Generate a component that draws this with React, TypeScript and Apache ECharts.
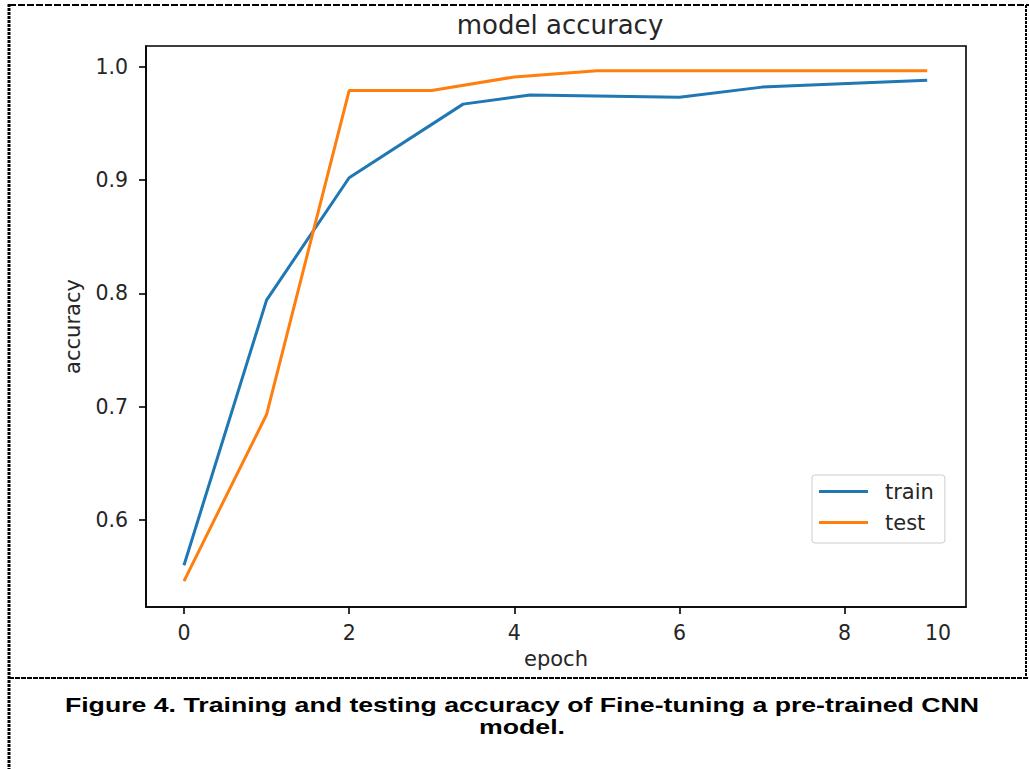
import React, { useEffect, useRef } from "react";
import * as echarts from "echarts";

const trainX = [0, 1, 2, 3.38, 4.19, 6, 7, 9];
const trainY = [0.56, 0.794, 0.902, 0.967, 0.975, 0.973, 0.982, 0.988];
const testX = [0, 1, 2, 3, 4, 5, 6, 7, 8, 9];
const testY = [0.546, 0.693, 0.979, 0.979, 0.991, 0.9965, 0.9965, 0.9965, 0.9965, 0.9965];
const xTicks = [0, 2, 4, 6, 8];
const xLastLabelPos = 9.13;
const xLastLabel = "10";
const yTicks = [0.6, 0.7, 0.8, 0.9, 1.0];
const titleText = "model accuracy";
const captionLine1 = "Figure 4. Training and testing accuracy of Fine-tuning a pre-trained CNN";
const captionLine2 = "model.";

const FONT = "DejaVu Sans";
const TXT = "#262626";
const FS = 20.5;

export default function App() {
  const ref = useRef<HTMLDivElement>(null);
  useEffect(() => {
    document.body.style.margin = "0";
    const chart = echarts.init(ref.current!, null, { renderer: "svg" });
    const axisLine = { show: true, onZero: false, lineStyle: { color: "#000", width: 1.6 } };
    const tick = { show: true, length: 7, inside: false, lineStyle: { color: "#000", width: 1.6 } };
    const option: any = {
      animation: false,
      backgroundColor: "#ffffff",
      title: {
        text: titleText,
        left: 555,
        top: 7,
        textAlign: "center",
        textStyle: { fontFamily: FONT, fontSize: 26, fontWeight: "normal", color: TXT },
      },
      grid: {
        left: 146,
        top: 46,
        width: 820,
        height: 561,
        show: true,
        borderColor: "#000",
        borderWidth: 1.6,
        backgroundColor: "transparent",
      },
      legend: {
        orient: "vertical",
        left: 812,
        top: 475,
        padding: [6, 11, 10, 7],
        itemGap: 10,
        itemWidth: 49,
        itemHeight: 3,
        borderColor: "#cccccc",
        borderWidth: 1,
        borderRadius: 3,
        textStyle: { fontFamily: FONT, fontSize: 21, color: TXT, padding: [0, 0, 0, 12] },
        data: [
          { name: "train", icon: "rect" },
          { name: "test", icon: "rect" },
        ],
      },
      xAxis: {
        type: "value",
        min: -0.46,
        max: 9.47,
        name: "epoch",
        nameLocation: "middle",
        nameGap: 41,
        nameTextStyle: { fontFamily: FONT, fontSize: 21, color: TXT },
        axisLine,
        splitLine: { show: false },
        axisTick: { ...tick, customValues: xTicks },
        axisLabel: {
          fontFamily: FONT,
          fontSize: FS,
          color: TXT,
          margin: 15,
          customValues: [...xTicks, xLastLabelPos],
          formatter: (v: number) => (v > 8.5 ? xLastLabel : String(v)),
        },
      },
      yAxis: {
        type: "value",
        min: 0.5231,
        max: 1.0183,
        name: "accuracy",
        nameLocation: "middle",
        nameRotate: 90,
        nameGap: 63,
        nameTextStyle: { fontFamily: FONT, fontSize: 21, color: TXT },
        axisLine,
        splitLine: { show: false },
        axisTick: { ...tick, customValues: yTicks },
        axisLabel: {
          fontFamily: FONT,
          fontSize: FS,
          color: TXT,
          margin: 18,
          customValues: yTicks,
          formatter: (v: number) => v.toFixed(1),
        },
      },
      series: [
        {
          name: "train",
          type: "line",
          data: trainX.map((x, i) => [x, trainY[i]]),
          symbol: "none",
          lineStyle: { color: "#1f77b4", width: 3 },
          itemStyle: { color: "#1f77b4" },
        },
        {
          name: "test",
          type: "line",
          data: testX.map((x, i) => [x, testY[i]]),
          symbol: "none",
          lineStyle: { color: "#ff7f0e", width: 3 },
          itemStyle: { color: "#ff7f0e" },
        },
      ],
      graphic: [
        {
          type: "line",
          shape: { x1: 9, y1: 4, x2: 9, y2: 769 },
          style: { stroke: "#000", lineWidth: 3, lineDash: [3, 1] },
        },
        {
          type: "line",
          shape: { x1: 9, y1: 5, x2: 1029, y2: 5 },
          style: { stroke: "#000", lineWidth: 2, lineDash: [7, 2] },
        },
        {
          type: "line",
          shape: { x1: 1026, y1: 5, x2: 1026, y2: 678 },
          style: { stroke: "#000", lineWidth: 2, lineDash: [3, 1] },
        },
        {
          type: "line",
          shape: { x1: 9, y1: 678, x2: 1029, y2: 678 },
          style: { stroke: "#000", lineWidth: 2, lineDash: [5, 1] },
        },
        {
          type: "text",
          x: 522,
          y: 705,
          scaleX: 1.27,
          style: {
            text: captionLine1,
            fontFamily: "Liberation Sans",
            fontWeight: "bold",
            fontSize: 21,
            fill: "#000",
            align: "center",
            verticalAlign: "middle",
          },
        },
        {
          type: "text",
          x: 522,
          y: 727,
          scaleX: 1.27,
          style: {
            text: captionLine2,
            fontFamily: "Liberation Sans",
            fontWeight: "bold",
            fontSize: 21,
            fill: "#000",
            align: "center",
            verticalAlign: "middle",
          },
        },
      ],
    };
    chart.setOption(option);
    return () => chart.dispose();
  }, []);
  return <div ref={ref} style={{ position: "fixed", left: 0, top: 0, width: 1029, height: 769 }} />;
}
